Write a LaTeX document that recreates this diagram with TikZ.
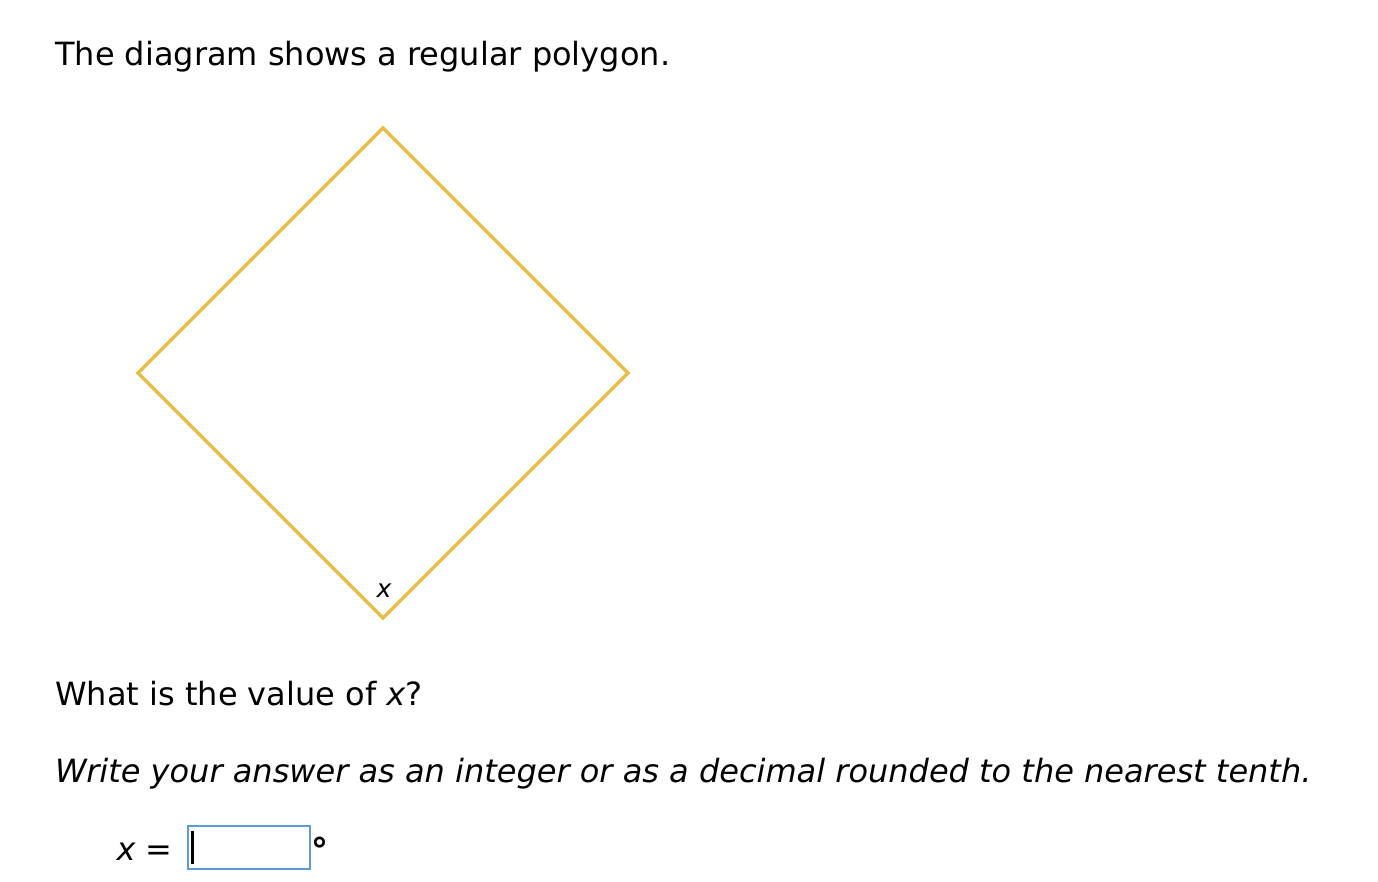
\documentclass[tikz,border=0pt]{standalone}
\usepackage{fontspec}
\setmainfont{DejaVu Sans}
\definecolor{polyyellow}{HTML}{E8BD45}
\definecolor{boxblue}{HTML}{5B9BDA}
\begin{document}
\begin{tikzpicture}[x=1pt,y=-1pt,
  txt/.style={anchor=base west,inner sep=0pt,font=\fontsize{32}{38}\selectfont},
  itxt/.style={txt,font=\fontsize{32}{38}\selectfont\itshape},
  poly/.style={draw=polyyellow,line width=3.4pt,line join=miter},
  ansbox/.style={draw=boxblue,line width=2.4pt,minimum width=122pt,minimum height=43pt,inner sep=0pt}]
\useasboundingbox[fill=white] (0,0) rectangle (1378,882);
\node[txt] (title) at (55,66) {The diagram shows a regular polygon.};
\coordinate (T) at (383,128);
\coordinate (R) at (628,373);
\coordinate (B) at (383,618);
\coordinate (L) at (138,373);
\draw[poly] (T) -- (R) -- (B) -- (L) -- cycle;
\node[inner sep=0pt,anchor=base,font=\fontsize{25}{30}\selectfont\itshape] (xl) at (384,597) {x};
\node[txt] (q) at (55,705) {What is the value of \textit{x}?};
\node[itxt] (w) at (55,782) {Write your answer as an integer or as a decimal rounded to the nearest tenth.};
\node[txt,anchor=base east] (xeq) at (173,860) {\textit{x} =};
\node[ansbox,anchor=north west] (box) at (187,825) {};
\draw[line width=3pt] ([xshift=5pt,yshift=-6pt]box.north west) coordinate (c1) -- ([xshift=5pt,yshift=6pt]box.south west) coordinate (c2);
\node[inner sep=0pt,anchor=center,font=\fontsize{34}{40}\selectfont\bfseries] (deg) at (320,850) {°};
\end{tikzpicture}
\end{document}
